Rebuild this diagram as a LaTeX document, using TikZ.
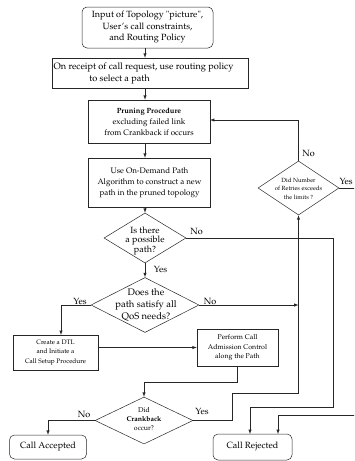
\documentclass[tikz,border=0pt]{standalone}
\usepackage[T1]{fontenc}
\usepackage{mathpazo}
\usepackage{tikz}
\usetikzlibrary{arrows,shapes.geometric}
\tikzstyle{box}=[rectangle,draw=black!85,line width=0.5pt,inner sep=0pt,
  align=center,font=\fontsize{8}{11}\selectfont]
\tikzstyle{rbox}=[box,rounded corners=5pt]
\tikzstyle{dia}=[diamond,draw=black!85,line width=0.5pt,inner sep=0pt]
\tikzstyle{dtext}=[align=center,inner sep=0pt]
\tikzstyle{lbl}=[inner sep=0pt,font=\fontsize{9}{11}\selectfont]
\tikzstyle{none}=[inner sep=0pt]
\tikzstyle{arr}=[-latex,line width=0.5pt,draw=black!85]

\begin{document}
\begin{tikzpicture}[x=10pt,y=-10pt]
            \useasboundingbox (0,0) rectangle (35.4,46.1);
            \clip (0,0) rectangle (35.4,46.1);
            \node [style=rbox,minimum width=131pt,minimum height=41pt,font=\fontsize{9}{11.5}\selectfont] (0) at (14.75, 2.75) {Input of Topology "picture",\\User's call constraints,\\and Routing Policy};
            \node [style=box,minimum width=196pt,minimum height=30pt] (1) at (15, 7.3) {};
            \node [style=box,minimum width=122pt,minimum height=43pt] (2) at (14.9, 12.15) {{\fontsize{7.5}{11}\selectfont\bfseries Pruning Procedure}\\excluding failed link\\from Crankback if occurs};
            \node [style=box,minimum width=122pt,minimum height=49pt] (3) at (14.95, 18.25) {Use On-Demand Path\\Algorithm to construct a new\\path in the pruned topology};
            \node [style=dia,minimum width=82pt,minimum height=50pt] (4) at (14.5, 23.8) {};
            \node [style=dia,minimum width=108pt,minimum height=55pt] (5) at (14.5, 30.5) {};
            \node [style=box,minimum width=85pt,minimum height=35pt,font=\fontsize{6.5}{9.5}\selectfont] (6) at (5.55, 35.25) {Create a DTL\\and Initiate a\\Call Setup Procedure};
            \node [style=box,minimum width=81pt,minimum height=37pt,font=\fontsize{7}{9.5}\selectfont] (7) at (23.75, 34.75) {Perform Call\\Admission Control\\along the Path};
            \node [style=dia,minimum width=98pt,minimum height=47pt] (8) at (14.4, 42.05) {};
            \node [style=rbox,minimum width=77pt,minimum height=24pt,font=\fontsize{9}{11}\selectfont] (9) at (4.8, 44.7) {Call Accepted};
            \node [style=rbox,minimum width=79pt,minimum height=26pt,font=\fontsize{9}{11}\selectfont] (10) at (25.25, 44.7) {Call Rejected};
            \node [style=dia,minimum width=81pt,minimum height=54pt] (11) at (29.85, 18.8) {};
            % texts of box 1 and of the diamonds
            \node [style=lbl,anchor=west,font=\fontsize{9.2}{11}\selectfont] (33) at (5.35, 6.75) {On receipt of call request, use routing policy};
            \node [style=lbl,anchor=east,font=\fontsize{9.2}{11}\selectfont] (34) at (15.0, 7.95) {to select a path};
            \node [style=dtext,font=\fontsize{9}{9.5}\selectfont] (29) at (14.5, 24.1) {Is there\\a possible\\path?};
            \node [style=dtext,font=\fontsize{9.5}{12}\selectfont] (30) at (14.6, 30.5) {Does the\\path satisfy all\\QoS needs?};
            \node [style=dtext,font=\fontsize{7}{9}\selectfont] (31) at (14.4, 41.9) {Did\\\textbf{Crankback}\\occur?};
            \node [style=dtext,font=\fontsize{6}{8.5}\selectfont] (32) at (29.85, 18.85) {Did Number\\of Retries exceeds\\the limits ?};
            % bend points
            \node [style=none] (12) at (6.1, 33.5) {};
            \node [style=none] (14) at (14.4, 38.2) {};
            \node [style=none] (15) at (23.2, 39.3) {};
            \node [style=none] (16) at (33.3, 40.7) {};
            \node [style=none] (17) at (25.0, 43.4) {};
            \node [style=none] (18) at (21.0, 12.0) {};
            \node [style=none] (19) at (36.0, 41.5) {};
            \node [style=none] (20) at (27.8, 43.4) {};
            % labels
            \node [style=lbl] (21) at (16.05, 26.9) {Yes};
            \node [style=lbl] (22) at (19.65, 23.15) {No};
            \node [style=lbl] (23) at (8.0, 30.1) {Yes};
            \node [style=lbl] (24) at (21.0, 30.1) {No};
            \node [style=lbl] (25) at (8.4, 41.4) {No};
            \node [style=lbl] (26) at (20.2, 41.1) {Yes};
            \node [style=lbl] (27) at (30.85, 15.3) {No};
            \node [style=lbl,anchor=east] (28) at (35.3, 18.1) {Yes};
            \draw [style=arr] (0.south -| 4.north) to (1.north -| 4.north);
            \draw [style=arr] (1.south -| 4.north) to (2.north -| 4.north);
            \draw [style=arr] (2.south -| 4.north) to (3.north -| 4.north);
            \draw [style=arr] (3.south -| 4.north) to (4.north);
            \draw [style=arr] (4.south) to (5.north);
            \draw [style=arr] (5.west) -| (12.center);
            \draw [style=arr] (5.east) -- (5.east -| 11.south);
            \draw [style=arr] (6.east |- 7.west) to (7.west);
            \draw [style=arr] (7.south) |- (14.center) -- (8.north);
            \draw [style=arr] (8.west) -| (9.north);
            \draw [style=arr] (8.east) -| (15.center) -| (11.south);
            \draw [style=arr] (4.east) -| (16.center) -| (17.center);
            \draw [style=arr] (11.north) |- (18.center);
            \draw [style=arr] (11.east) -| (19.center) -| (20.center);
    \end{tikzpicture}
\end{document}
